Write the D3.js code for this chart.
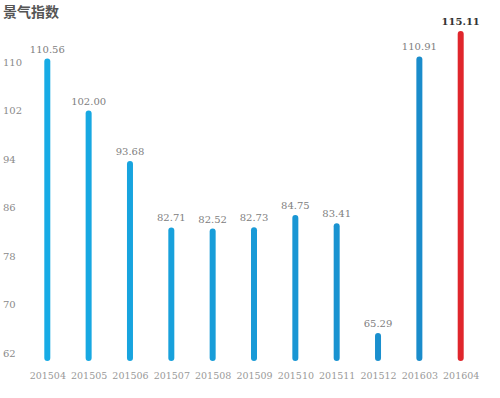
<!DOCTYPE html>
<html>
<head>
<meta charset="utf-8">
<script src="https://cdn.jsdelivr.net/npm/d3@7/dist/d3.min.js"></script>
<style>
  html, body { margin: 0; padding: 0; background: #fff; }
  svg { display: block; }
</style>
</head>
<body>
<svg id="chart"></svg>
<script>
// data
const months = ["201504", "201505", "201506", "201507", "201508", "201509",
  "201510", "201511", "201512", "201603", "201604"];
const index = [110.56, 102.00, 93.68, 82.71, 82.52, 82.73, 84.75, 83.41, 65.29, 110.91, 115.11];
const yTicks = [62, 70, 78, 86, 94, 102, 110];
const title = "景气指数";

const width = 500;
const height = 398;
const $svg = d3.select("#chart").attr("width", width).attr("height", height);

// title
$svg.append("text")
  .attr("x", 3)
  .attr("y", 17)
  .attr("fill", "#555")
  .style("font-family", "'Noto Sans CJK SC', sans-serif")
  .style("font-size", "14px")
  .style("font-weight", "700")
  .text(title);

// scales
const x = d3.scalePoint().domain(months).range([47.3, 460.7]);
const y = d3.scaleLinear().domain([62, 110]).range([353, 62]);
const baseline = y(62) + 8;
const blue = d3.scaleLinear()
  .domain([0, months.length - 2])
  .range(["#17abe5", "#1a8ccb"]);
const barColor = (d, i) => (i === months.length - 1 ? "#e0262c" : blue(i));

// y axis (labels only)
const $yAxis = $svg.append("g")
  .attr("transform", "translate(3,0)")
  .call(d3.axisLeft(y).tickValues(yTicks).tickSize(0).tickPadding(0));
$yAxis.select(".domain").remove();
$yAxis.selectAll("text")
  .attr("text-anchor", "start")
  .attr("fill", "#8a8a8a")
  .style("font-family", "'DejaVu Serif', serif")
  .style("font-size", "10px");

// x axis (labels only)
const $xAxis = $svg.append("g")
  .attr("transform", `translate(0,${baseline + 11})`)
  .call(d3.axisBottom(x).tickSize(0).tickPadding(0));
$xAxis.select(".domain").remove();
$xAxis.selectAll("text")
  .attr("fill", "#999")
  .style("font-family", "'DejaVu Serif', serif")
  .style("font-size", "9.5px");

// bars
const $bars = $svg.append("g")
  .selectAll("g")
  .data(index)
  .enter()
  .append("g");

$bars.append("rect")
  .attr("x", (d, i) => x(months[i]) - 3)
  .attr("y", (d) => y(d))
  .attr("width", 6)
  .attr("height", (d) => baseline - y(d))
  .attr("rx", 3)
  .attr("fill", barColor);

// value labels
$bars.append("text")
  .attr("x", (d, i) => x(months[i]))
  .attr("y", (d) => y(d) - 6)
  .attr("text-anchor", "middle")
  .attr("fill", (d, i) => (i === months.length - 1 ? "#333" : "#808080"))
  .style("font-family", "'DejaVu Serif', serif")
  .style("font-size", "10px")
  .style("font-weight", (d, i) => (i === months.length - 1 ? "700" : "400"))
  .text((d) => d.toFixed(2));
</script>
</body>
</html>
